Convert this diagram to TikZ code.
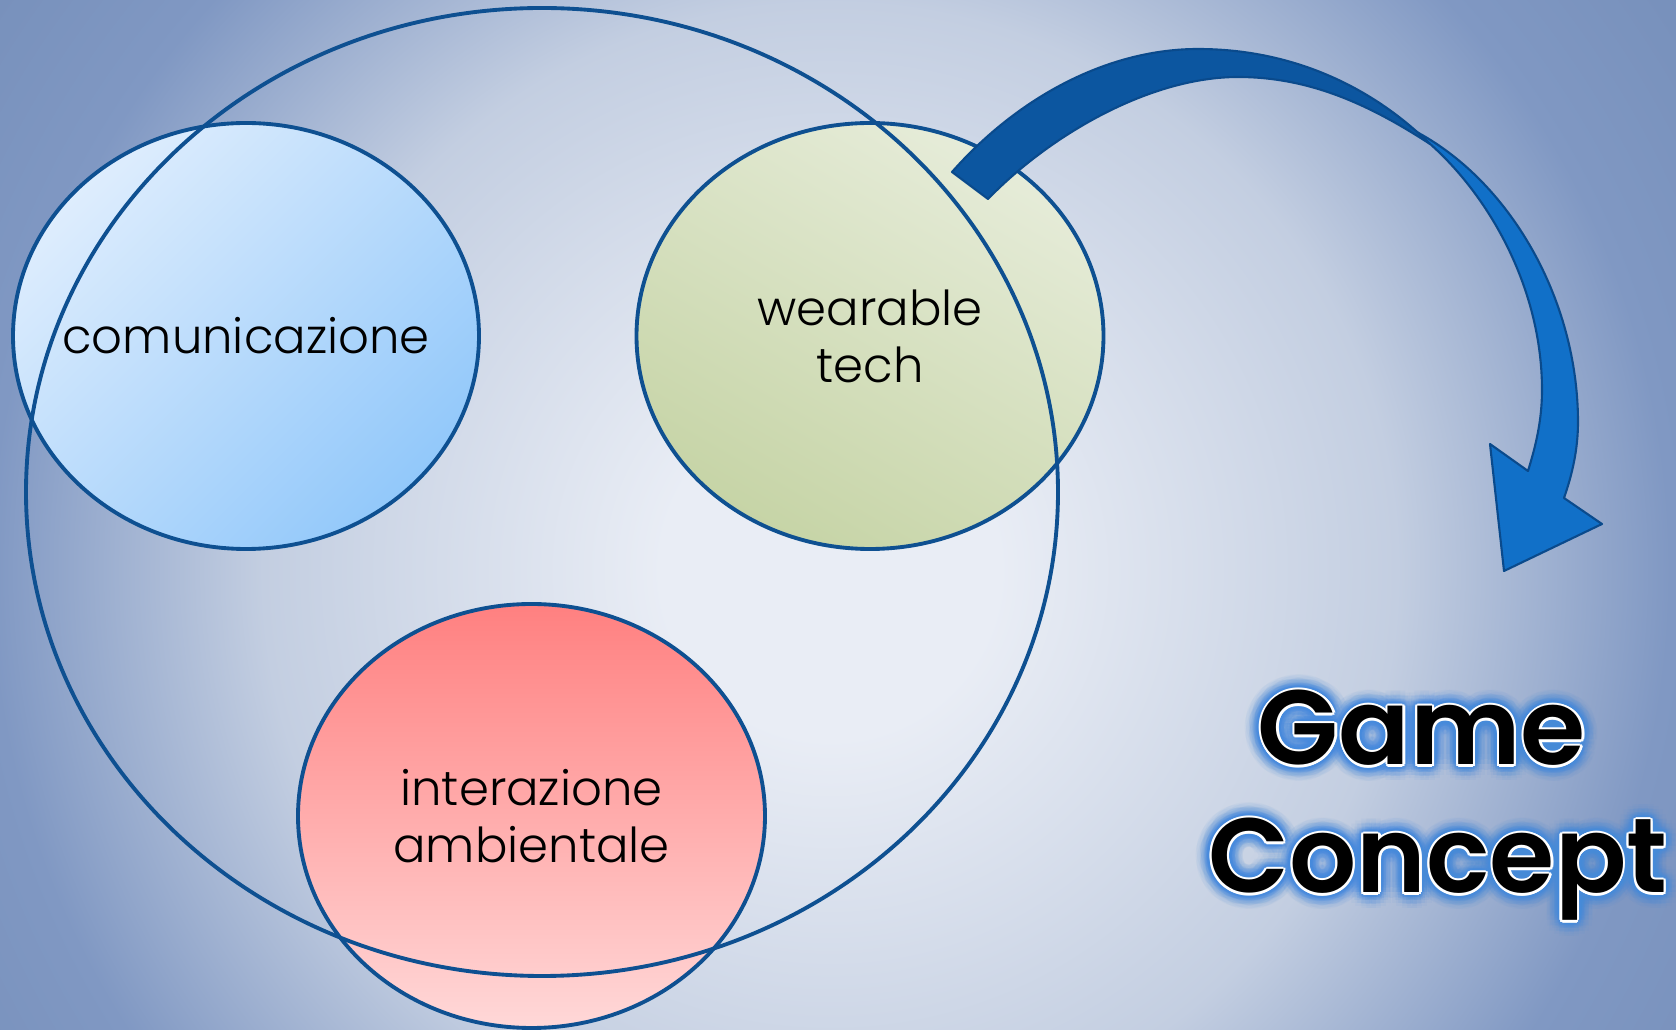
\documentclass[tikz,border=0pt]{standalone}
\usepackage{fontspec}
\setmainfont{Poppins}[UprightFont=* Light, BoldFont=* SemiBold]

\definecolor{ringblue}{RGB}{14,80,145}
\definecolor{commtop}{RGB}{222,237,253}
\definecolor{commbot}{RGB}{146,200,250}
\definecolor{weartop}{RGB}{230,236,217}
\definecolor{wearbot}{RGB}{198,212,166}
\definecolor{intertop}{RGB}{255,128,128}
\definecolor{interbot}{RGB}{255,216,216}
\definecolor{arrowdark}{RGB}{12,86,160}
\definecolor{arrowlight}{RGB}{17,112,200}
\definecolor{arrowedge}{RGB}{10,74,140}
\definecolor{glowblue}{RGB}{70,138,220}
\definecolor{bgcore}{RGB}{233,237,245}
\definecolor{bgmid}{RGB}{195,206,225}
\definecolor{bgedge}{RGB}{128,152,195}
\definecolor{bgcorner}{RGB}{120,145,188}

% radius 25bp is the rim of the shaded circle
\pgfdeclareradialshading{bgglow}{\pgfpoint{0bp}{0bp}}{color(0bp)=(bgcore); color(4bp)=(bgcore); color(13.5bp)=(bgmid); color(20bp)=(bgedge); color(24bp)=(bgcorner); color(50bp)=(bgcorner)}

\tikzset{
  ring/.style={draw=ringblue, line width=1.1pt},
  lbl/.style={font=\fontsize{13.7}{16.2}\selectfont, align=center, text=black},
  gctext/.style={font=\fontsize{30}{36}\selectfont\bfseries, anchor=base},
}

\begin{document}
\begin{tikzpicture}
      \useasboundingbox (0,0) rectangle (16.76,10.30);
      \begin{scope}
        \clip (0,0) rectangle (16.76,10.30);
        \shade[shading=bgglow] (8.3,4.6) circle (10.5);
      \end{scope}

      % the three fields
      \shadedraw [ring, top color=commtop, bottom color=commbot, shading angle=45] (2.46,6.94) ellipse (2.33 and 2.13);
      \shadedraw [ring, top color=weartop, bottom color=wearbot, shading angle=-30] (8.70,6.94) ellipse (2.335 and 2.13);
      \shadedraw [ring, top color=intertop, bottom color=interbot] (5.315,2.14) ellipse (2.335 and 2.12);

      % outer ring over them
      \draw [ring] (5.42,5.38) ellipse (5.16 and 4.84);

      \node [lbl] (comm) at (2.46,6.94) {comunicazione};
      \node [lbl] (wear) at (8.70,6.94) {wearable\\tech};
      \node [lbl] (inter) at (5.315,2.14) {interazione\\ambientale};

      % curved arrow: front band with head, then back band
      \filldraw [fill=arrowlight, draw=arrowedge, line width=0.6pt, line join=round]
        (14.13,9.00) .. controls (15.10,8.50) and (15.78,7.30) .. (15.78,6.08)
        .. controls (15.78,5.80) and (15.72,5.55) .. (15.64,5.32)
        -- (16.02,5.06) -- (15.04,4.59) -- (14.90,5.86) -- (15.28,5.59)
        .. controls (15.36,5.85) and (15.42,6.10) .. (15.42,6.40)
        .. controls (15.42,7.50) and (14.80,8.50) .. (14.13,9.00) -- cycle;
      \filldraw [fill=arrowdark, draw=arrowedge, line width=0.6pt, line join=round]
        (9.52,8.58) .. controls (10.20,9.35) and (11.10,9.81) .. (11.98,9.81)
        .. controls (12.90,9.81) and (13.70,9.45) .. (14.30,8.86)
        .. controls (13.70,9.25) and (13.10,9.53) .. (12.38,9.53)
        .. controls (11.50,9.53) and (10.50,8.95) .. (9.88,8.31) -- cycle;

      % title with glow and white rim
      \foreach \w/\px/\py in {Game/14.22/2.65, Concept/14.38/1.37} {
        \foreach \r/\op in {0.16/0.05, 0.12/0.09, 0.08/0.15, 0.05/0.25} {
          \foreach \a in {0,20,...,340} {
            \node [gctext, text=glowblue, text opacity=\op] (glow-\w-\r-\a) at (\px,\py) [shift={(\a:\r)}] {\w};
          }
        }
        \foreach \a in {0,30,...,330} {
          \node [gctext, text=white] (rim-\w-\a) at (\px,\py) [shift={(\a:0.022)}] {\w};
        }
        \node [gctext, text=black] (title-\w) at (\px,\py) {\w};
      }
\end{tikzpicture}
\end{document}
